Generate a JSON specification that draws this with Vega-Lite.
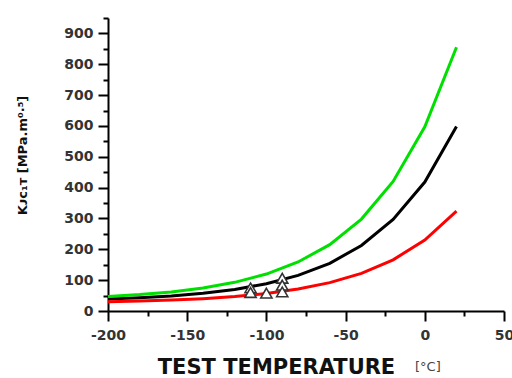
{
  "$schema": "https://vega.github.io/schema/vega-lite/v6.json",
  "width": 396,
  "height": 293,
  "autosize": {"type": "none"},
  "padding": {"left": 108, "top": 18, "right": 8, "bottom": 67},
  "background": "white",
  "title": {
    "text": "[°C]",
    "orient": "bottom",
    "anchor": "start",
    "frame": "group",
    "font": "DejaVu Sans",
    "fontSize": 13,
    "fontWeight": "normal",
    "color": "#444444",
    "baseline": "alphabetic",
    "offset": 0,
    "dx": 307,
    "dy": -6
  },
  "config": {
    "view": {"stroke": null},
    "axis": {
      "labelFont": "DejaVu Sans",
      "labelFontWeight": "bold",
      "labelFontSize": 14,
      "labelColor": "#333333",
      "titleFont": "DejaVu Sans",
      "titleFontWeight": "bold",
      "titleColor": "#111111",
      "domainColor": "#000000",
      "domainWidth": 2,
      "tickColor": "#000000",
      "tickWidth": 2,
      "grid": false
    }
  },
  "datasets": {
    "curves": [
      {"T": -200, "K": 38.7, "band": "median"},
      {"T": -180, "K": 42.8, "band": "median"},
      {"T": -160, "K": 48.7, "band": "median"},
      {"T": -140, "K": 57.3, "band": "median"},
      {"T": -120, "K": 69.9, "band": "median"},
      {"T": -100, "K": 88.3, "band": "median"},
      {"T": -80, "K": 115.3, "band": "median"},
      {"T": -60, "K": 154.7, "band": "median"},
      {"T": -40, "K": 212.4, "band": "median"},
      {"T": -20, "K": 296.8, "band": "median"},
      {"T": 0, "K": 418, "band": "median"},
      {"T": 20, "K": 598, "band": "median"},
      {"T": -200, "K": 30.1, "band": "5%"},
      {"T": -180, "K": 32.3, "band": "5%"},
      {"T": -160, "K": 35.5, "band": "5%"},
      {"T": -140, "K": 40.1, "band": "5%"},
      {"T": -120, "K": 46.9, "band": "5%"},
      {"T": -100, "K": 56.9, "band": "5%"},
      {"T": -80, "K": 71.5, "band": "5%"},
      {"T": -60, "K": 92, "band": "5%"},
      {"T": -40, "K": 122, "band": "5%"},
      {"T": -20, "K": 166, "band": "5%"},
      {"T": 0, "K": 230, "band": "5%"},
      {"T": 20, "K": 324, "band": "5%"},
      {"T": -200, "K": 47.3, "band": "95%"},
      {"T": -180, "K": 53.2, "band": "95%"},
      {"T": -160, "K": 61.8, "band": "95%"},
      {"T": -140, "K": 74.4, "band": "95%"},
      {"T": -120, "K": 92.9, "band": "95%"},
      {"T": -100, "K": 119.8, "band": "95%"},
      {"T": -80, "K": 159, "band": "95%"},
      {"T": -60, "K": 215, "band": "95%"},
      {"T": -40, "K": 298, "band": "95%"},
      {"T": -20, "K": 420, "band": "95%"},
      {"T": 0, "K": 597, "band": "95%"},
      {"T": 20, "K": 855, "band": "95%"}
    ],
    "tests": [
      {"T": -110, "K": 75},
      {"T": -110, "K": 60},
      {"T": -100, "K": 58},
      {"T": -90, "K": 106},
      {"T": -90, "K": 84},
      {"T": -90, "K": 62}
    ]
  },
  "encoding": {
    "x": {
      "field": "T",
      "type": "quantitative",
      "scale": {"domain": [-200, 50], "nice": false},
      "axis": {
        "values": [-200, -175, -150, -125, -100, -75, -50, -25, 0, 25, 50],
        "labelExpr": "datum.value % 50 === 0 ? replace(datum.label, '−', '-') : ''",
        "labelOverlap": false,
        "tickSize": {"condition": {"test": "datum.value % 50 === 0", "value": 10}, "value": 5},
        "labelPadding": 7,
        "labelFlush": false,
        "title": "TEST TEMPERATURE",
        "titleFontSize": 21,
        "titleX": 168,
        "titleY": 62,
        "titleAlign": "center",
        "titleBaseline": "alphabetic"
      }
    },
    "y": {
      "field": "K",
      "type": "quantitative",
      "scale": {"domain": [0, 950], "nice": false},
      "axis": {
        "values": [0, 50, 100, 150, 200, 250, 300, 350, 400, 450, 500, 550, 600, 650, 700, 750, 800, 850, 900, 950],
        "labelExpr": "datum.value % 100 === 0 ? datum.label : ''",
        "labelOverlap": false,
        "tickSize": {"condition": {"test": "datum.value % 100 === 0", "value": 10}, "value": 5},
        "labelPadding": 5,
        "title": "Kᴊᴄ₁ᴛ [MPa.m⁰·⁵]",
        "titleFontSize": 13,
        "titleAngle": -90,
        "titleX": -86,
        "titleY": 137,
        "titleAlign": "center",
        "titleBaseline": "middle"
      }
    }
  },
  "layer": [
    {
      "data": {"name": "curves"},
      "mark": {"type": "line", "strokeWidth": 3},
      "encoding": {
        "color": {
          "field": "band",
          "type": "nominal",
          "scale": {"domain": ["95%", "median", "5%"], "range": ["#00e000", "#000000", "#ff0000"]},
          "legend": null
        }
      }
    },
    {
      "data": {"name": "tests"},
      "mark": {"type": "point", "shape": "triangle-up", "filled": true, "fill": "white", "stroke": "#333333", "strokeWidth": 1.6, "size": 125, "opacity": 1}
    }
  ]
}
